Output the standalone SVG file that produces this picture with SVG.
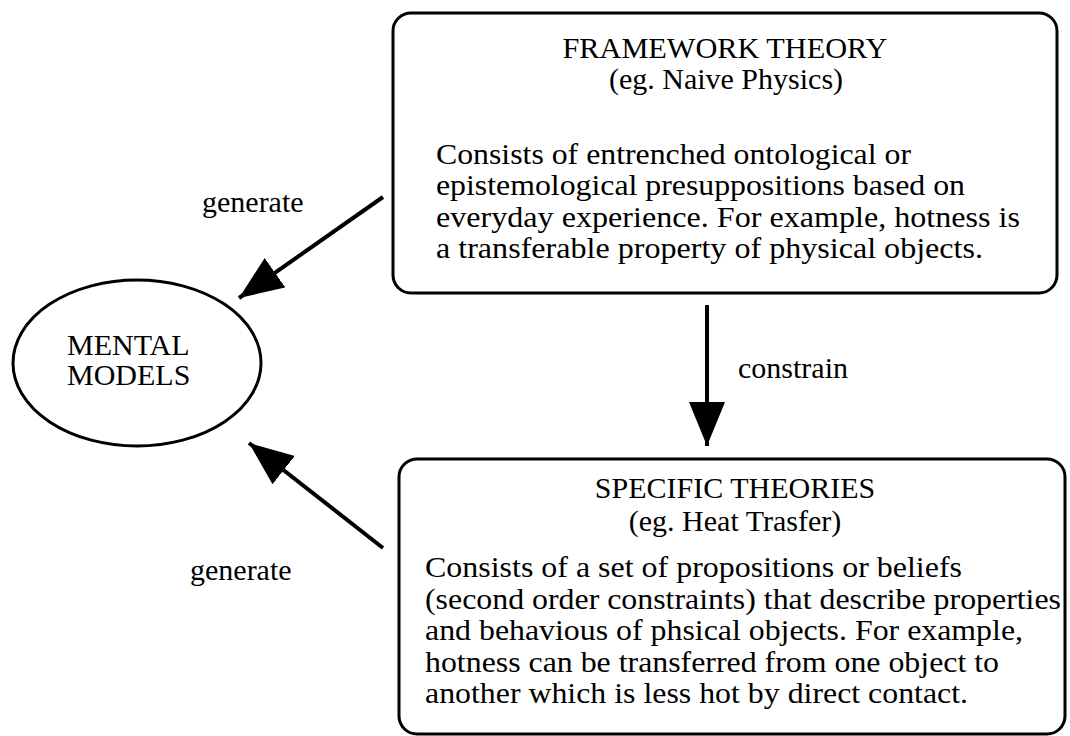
<svg xmlns="http://www.w3.org/2000/svg" width="1070" height="736" viewBox="0 0 1070 736">
<style>
text{font-family:"Liberation Serif","Times New Roman",serif;fill:#000}
.c{text-anchor:middle;font-size:30px}
.b{font-size:29px}
.l{font-size:30px}
.box{fill:#fff;stroke:#000;stroke-width:3}
.ln{stroke:#000;stroke-width:4;fill:none}
</style>
<defs>
<marker id="ah" markerUnits="userSpaceOnUse" markerWidth="46" markerHeight="36" refX="44" refY="18" orient="auto">
<path d="M0,0 L44,18 L0,36 Z" fill="#000"/>
</marker>
</defs>
<rect width="1070" height="736" fill="#fff"/>
<g id="framework">
<rect class="box" x="393" y="13" width="664" height="280" rx="18"/>
<text class="c" x="725" y="58" textLength="325" lengthAdjust="spacingAndGlyphs">FRAMEWORK THEORY</text>
<text class="c" x="726" y="89">(eg. Naive Physics)</text>
<text class="b" x="436" y="164" textLength="475" lengthAdjust="spacingAndGlyphs">Consists of entrenched ontological or</text>
<text class="b" x="436" y="195" textLength="529" lengthAdjust="spacingAndGlyphs">epistemological presuppositions based on</text>
<text class="b" x="436" y="227" textLength="584" lengthAdjust="spacingAndGlyphs">everyday experience. For example, hotness is</text>
<text class="b" x="436" y="258" textLength="547" lengthAdjust="spacingAndGlyphs">a transferable property of physical objects.</text>
</g>
<g id="specific">
<rect class="box" x="399" y="459" width="666" height="275" rx="18"/>
<text class="c" x="735" y="498">SPECIFIC THEORIES</text>
<text class="c" x="735" y="531">(eg. Heat Trasfer)</text>
<text class="b" x="425" y="577" textLength="537" lengthAdjust="spacingAndGlyphs">Consists of a set of propositions or beliefs</text>
<text class="b" x="425" y="609" textLength="636" lengthAdjust="spacingAndGlyphs">(second order constraints) that describe properties</text>
<text class="b" x="425" y="640" textLength="598" lengthAdjust="spacingAndGlyphs">and behavious of phsical objects. For example,</text>
<text class="b" x="425" y="672" textLength="574" lengthAdjust="spacingAndGlyphs">hotness can be transferred from one object to</text>
<text class="b" x="425" y="703" textLength="543" lengthAdjust="spacingAndGlyphs">another which is less hot by direct contact.</text>
</g>
<g id="mental">
<ellipse cx="137" cy="363" rx="124" ry="83" fill="#fff" stroke="#000" stroke-width="3"/>
<text class="l" x="67" y="355">MENTAL</text>
<text class="l" x="67" y="385">MODELS</text>
</g>
<g id="connectors">
<line class="ln" x1="383" y1="197" x2="239" y2="298" marker-end="url(#ah)"/>
<line class="ln" x1="383" y1="548" x2="249" y2="443" marker-end="url(#ah)"/>
<line class="ln" x1="707" y1="305" x2="707" y2="446" marker-end="url(#ah)"/>
<text class="l" x="202" y="212">generate</text>
<text class="l" x="190" y="580">generate</text>
<text class="l" x="738" y="378">constrain</text>
</g>
</svg>
